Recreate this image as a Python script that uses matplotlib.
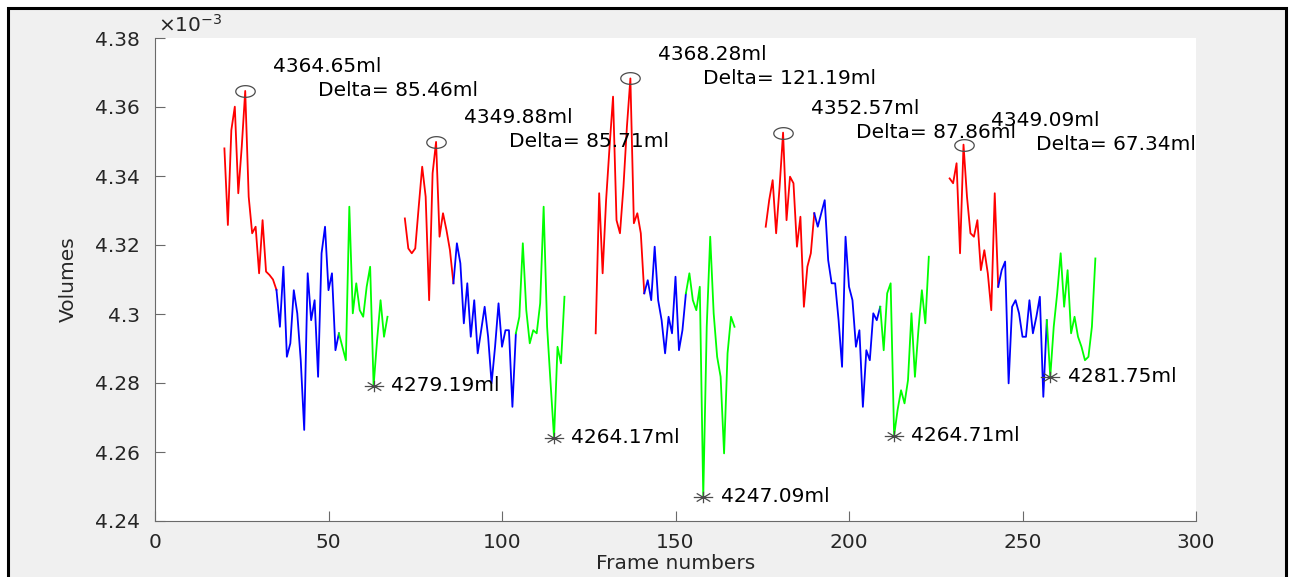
import numpy as np
import matplotlib
matplotlib.use("Agg")
import matplotlib.pyplot as plt
from matplotlib.path import Path
from matplotlib.patches import Rectangle
from matplotlib.ticker import FuncFormatter

# First frame of each breathing cycle, and the frames where the blue
# (mid) and green (end) phases begin
cycle_start = [20, 72, 127, 176, 229]
blue_from = [35, 86, 141, 190, 243]
green_from = [53, 104, 153, 209, 257]

# Lung volume per frame (ml), one list per cycle
vol_1 = [4348.0, 4325.8, 4353.3, 4360.1, 4335.0, 4348.5, 4364.65, 4334.0,
         4323.4, 4325.3, 4311.8, 4327.2, 4312.3, 4311.3, 4310.0, 4307.0,
         4296.3, 4313.7, 4287.6, 4291.5, 4306.9, 4300.2, 4286.6, 4266.4,
         4311.8, 4298.2, 4304.0, 4281.8, 4317.6, 4325.3, 4306.9, 4311.8,
         4289.5, 4294.4, 4290.5, 4286.6, 4331.1, 4300.2, 4308.9, 4301.1,
         4299.2, 4307.9, 4313.7, 4279.19, 4292.4, 4304.0, 4293.4, 4299.2]
vol_2 = [4327.7, 4319.0, 4317.6, 4319.0, 4331.1, 4342.7, 4334.0, 4304.0,
         4340.8, 4349.88, 4322.4, 4329.2, 4324.3, 4318.5, 4308.9, 4320.5,
         4314.7, 4297.3, 4308.9, 4293.4, 4304.0, 4288.6, 4295.3, 4302.1,
         4293.4, 4279.9, 4290.5, 4303.1, 4290.5, 4295.3, 4295.3, 4273.1,
         4294.4, 4299.2, 4320.5, 4301.1, 4291.5, 4295.3, 4294.4, 4303.1,
         4331.1, 4296.3, 4279.9, 4264.17, 4290.5, 4285.7, 4305.0]
vol_3 = [4294.4, 4335.0, 4311.8, 4333.0, 4348.5, 4363.0, 4327.2, 4323.4,
         4336.9, 4354.3, 4368.28, 4326.3, 4329.2, 4323.4, 4306.0, 4309.8,
         4304.0, 4319.5, 4304.0, 4298.2, 4288.6, 4299.2, 4294.4, 4310.8,
         4289.5, 4295.3, 4306.0, 4311.8, 4304.0, 4301.1, 4307.9, 4247.09,
         4296.3, 4322.4, 4300.2, 4287.6, 4281.8, 4259.6, 4288.6, 4299.2,
         4296.3]
vol_4 = [4325.3, 4333.0, 4338.8, 4323.4, 4336.9, 4352.57, 4327.2, 4339.8,
         4337.9, 4319.5, 4328.2, 4302.1, 4313.7, 4317.6, 4329.2, 4325.3,
         4329.2, 4333.0, 4315.6, 4308.9, 4308.9, 4298.2, 4284.7, 4322.4,
         4307.9, 4304.0, 4290.5, 4295.3, 4273.1, 4289.5, 4286.6, 4300.2,
         4298.2, 4302.1, 4289.5, 4306.0, 4308.9, 4264.71, 4272.2, 4277.9,
         4274.1, 4280.8, 4300.2, 4281.8, 4295.3, 4306.9, 4297.3, 4316.6]
vol_5 = [4339.3, 4337.9, 4343.7, 4317.6, 4349.09, 4334.0, 4323.4, 4322.4,
         4327.2, 4312.7, 4318.5, 4311.8, 4301.1, 4335.0, 4307.9, 4312.7,
         4315.2, 4279.9, 4302.1, 4304.0, 4300.2, 4293.4, 4293.4, 4304.0,
         4294.4, 4299.2, 4305.0, 4276.0, 4298.2, 4281.75, 4296.3, 4306.0,
         4317.6, 4302.1, 4312.7, 4294.4, 4299.2, 4293.4, 4290.5, 4286.6,
         4287.6, 4296.3, 4316.1]
volumes = [vol_1, vol_2, vol_3, vol_4, vol_5]

x_ticks = [0, 50, 100, 150, 200, 250, 300]
y_ticks = [4.24e-3, 4.26e-3, 4.28e-3, 4.30e-3, 4.32e-3, 4.34e-3, 4.36e-3, 4.38e-3]

ML_TO_UNITS = 1e-6
FONT = 14.5
plt.rcParams['font.family'] = ['DejaVu Sans']

W, H = 1290, 577
fig = plt.figure(figsize=(W / 100, H / 100), dpi=100)
fig.patch.set_facecolor('white')

# grey window panel with a dark frame
fig.add_artist(Rectangle((8 / W, -0.05), (1286 - 8) / W, 1 - 8 / H + 0.05,
                         transform=fig.transFigure, facecolor='#f0f0f0',
                         edgecolor='black', lw=2.2, zorder=-5))

ax = fig.add_axes([155 / W, 1 - 521 / H, (1196 - 155) / W, (521 - 38) / H])
ax.set_facecolor('white')

# open ellipse for maxima, asterisk for minima
theta = np.linspace(0, 2 * np.pi, 60)
ellipse = Path(np.column_stack([np.cos(theta), 0.6 * np.sin(theta)]), closed=True)
star_v = [(-1, 0), (1, 0), (0, -0.59), (0, 0.59),
          (-0.7, -0.42), (0.7, 0.42), (-0.7, 0.42), (0.7, -0.42)]
star_c = [Path.MOVETO, Path.LINETO] * 4
asterisk = Path(star_v, star_c)

mark_col = '#4a4a4a'
for start, b0, g0, vol in zip(cycle_start, blue_from, green_from, volumes):
    v = np.asarray(vol)
    f = np.arange(start, start + len(v))
    ib, ig = b0 - start, g0 - start
    y = v * ML_TO_UNITS
    ax.plot(f[:ib + 1], y[:ib + 1], color='#ff0000', lw=1.3, zorder=3)
    ax.plot(f[ib:ig + 1], y[ib:ig + 1], color='#0000ff', lw=1.3, zorder=3)
    ax.plot(f[ig:], y[ig:], color='#00ff00', lw=1.3, zorder=3)

    ip = int(np.argmax(v[:ib + 1]))
    it = ig + int(np.argmin(v[ig:]))
    peak, trough = v[ip], v[it]
    fp, ft = f[ip], f[it]

    ax.plot(fp, peak * ML_TO_UNITS, ls='none', marker=ellipse, ms=14,
            mfc='none', mec=mark_col, mew=0.9, zorder=4)
    ax.plot(ft, trough * ML_TO_UNITS, ls='none', marker=asterisk, ms=14,
            mfc='none', mec=mark_col, mew=0.9, zorder=4)

    ax.text(fp + 8, (peak + 7) * ML_TO_UNITS, f"{peak:.2f}ml",
            ha='left', va='center', fontsize=FONT, color='black', zorder=5)
    ax.text(fp + 21, peak * ML_TO_UNITS, f"Delta= {peak - trough:.2f}ml",
            ha='left', va='center', fontsize=FONT, color='black', zorder=5)
    ax.text(ft + 5, trough * ML_TO_UNITS, f"{trough:.2f}ml",
            ha='left', va='center', fontsize=FONT, color='black', zorder=5)

ax.set_xlim(0, 300)
ax.set_ylim(4.24e-3, 4.38e-3)
ax.set_xticks(x_ticks)
ax.set_yticks(y_ticks)
ax.yaxis.set_major_formatter(FuncFormatter(lambda val, pos: f"{val * 1e3:g}"))
ax.text(0.003, 1.004, r'$\times10^{-3}$', transform=ax.transAxes,
        ha='left', va='bottom', fontsize=FONT, color='#262626')

for side in ('top', 'right'):
    ax.spines[side].set_visible(False)
for side in ('left', 'bottom'):
    ax.spines[side].set_color('#6a6a6a')
    ax.spines[side].set_linewidth(0.8)
ax.tick_params(direction='in', length=7, width=0.8, color='#6a6a6a',
               labelcolor='#262626', labelsize=FONT)
ax.tick_params(axis='y', pad=11)
ax.tick_params(axis='x', pad=9)

ax.set_ylabel('Volumes', fontsize=FONT, color='#262626', labelpad=12)
ax.set_xlabel('Frame numbers', fontsize=FONT, color='#262626', labelpad=1)

fig.savefig('out.png', dpi=100, facecolor=fig.get_facecolor())
